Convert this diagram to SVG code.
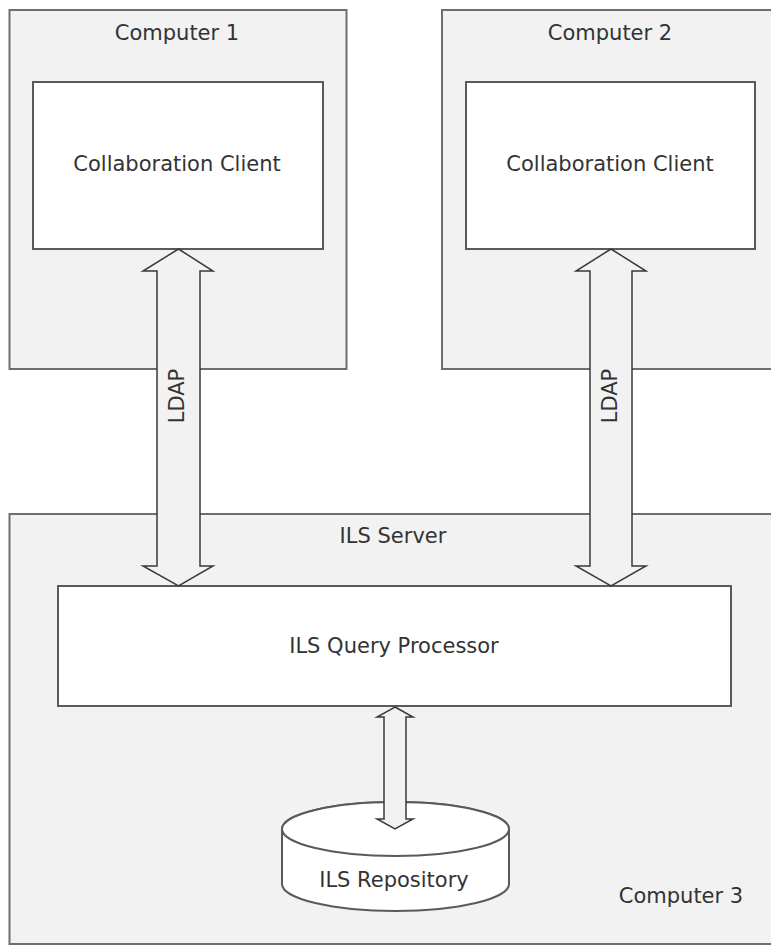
<svg xmlns="http://www.w3.org/2000/svg" width="771" height="946" viewBox="0 0 771 946">
<style>
.outer{fill:#f2f2f2;stroke:#6e6e6e;stroke-width:2}
.inner{fill:#ffffff;stroke:#5a5a5a;stroke-width:2}
.arrow{fill:#f2f2f2;stroke:#3a3a3a;stroke-width:1.5;stroke-linejoin:miter}
.t{font-family:"DejaVu Sans",Verdana,sans-serif;font-size:21px;fill:#333333;text-anchor:middle}
</style>
<rect width="771" height="946" fill="#ffffff"/>
<g id="computer1">
<rect class="outer" x="9.5" y="10" width="337" height="359"/>
<text class="t" x="177" y="40">Computer 1</text>
</g>
<g id="computer2">
<rect class="outer" x="442" y="10" width="340" height="359"/>
<text class="t" x="610" y="40">Computer 2</text>
</g>
<g id="client1">
<rect class="inner" x="33" y="82" width="290" height="167"/>
<text class="t" x="177" y="171">Collaboration Client</text>
</g>
<g id="client2">
<rect class="inner" x="466" y="82" width="289" height="167"/>
<text class="t" x="610" y="171">Collaboration Client</text>
</g>
<g id="computer3">
<rect class="outer" x="9.5" y="514" width="780" height="430"/>
<text class="t" x="393" y="543">ILS Server</text>
<text class="t" x="681" y="903">Computer 3</text>
</g>
<g id="queryprocessor">
<rect class="inner" x="58" y="586" width="673" height="120"/>
<text class="t" x="394" y="653">ILS Query Processor</text>
</g>
<g id="repository">
<path class="inner" d="M282,829 L282,884 A113.5,27 0 0 0 509,884 L509,829 A113.5,27 0 0 0 282,829 Z"/>
<ellipse class="inner" cx="395.5" cy="829" rx="113.5" ry="27"/>
<text class="t" x="394" y="887">ILS Repository</text>
</g>
<g id="connectors">
<path class="arrow" d="M178.5,249 L213,271 L200,271 L200,566 L213,566 L178.5,586 L143,566 L157,566 L157,271 L143,271 Z"/>
<path class="arrow" d="M611,249 L646,271 L632,271 L632,566 L646,566 L611,586 L576,566 L590,566 L590,271 L576,271 Z"/>
<path class="arrow" d="M395,707 L413,717 L406,717 L406,819 L413,819 L395,829 L377,819 L384,819 L384,717 L377,717 Z"/>
<text class="t" transform="translate(184,396) rotate(-90)">LDAP</text>
<text class="t" transform="translate(617,396) rotate(-90)">LDAP</text>
</g>
</svg>
